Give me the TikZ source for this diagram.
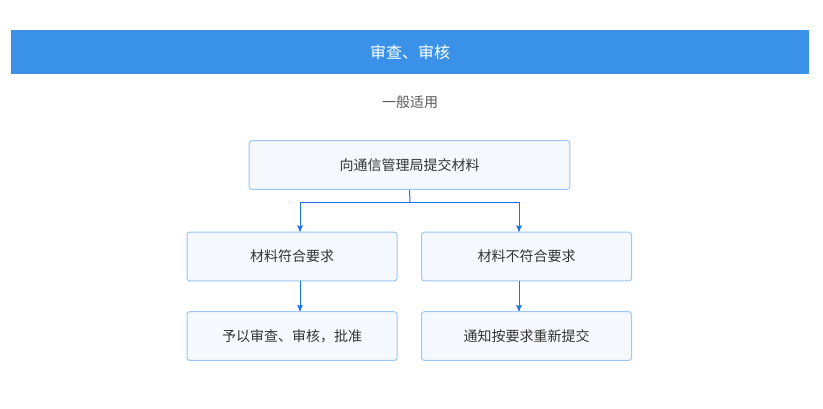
\documentclass[tikz,border=0pt]{standalone}
\usepackage{fontspec}
\setmainfont{Noto Sans CJK SC}
\usepackage{xcolor}
\usetikzlibrary{positioning, arrows}
\definecolor{hdrblue}{HTML}{3A91E8}
\definecolor{boxline}{HTML}{9CC6F3}
\definecolor{boxfill}{HTML}{F5F9FD}
\definecolor{arrblue}{HTML}{1A73E8}
\definecolor{txtgray}{HTML}{333333}

\begin{document}
\begin{tikzpicture}
		[x=0.75pt,y=-0.75pt,>=stealth',semithick,
		box/.style={rectangle,draw=boxline,fill=boxfill,line width=0.75pt,rounded corners=2pt,minimum width=157.5pt,minimum height=36.5pt,text=txtgray,font=\fontsize{10.5}{12}\selectfont},
		conn/.style={draw=arrblue,line width=0.75pt}]
		\useasboundingbox (0,0) rectangle (823,408);
		\fill[hdrblue] (11,30) rectangle (809,74);
		\node[text=white,font=\fontsize{12}{14}\selectfont] (title) at (410,52) {审查、审核};
		\node[text=black!65,font=\fontsize{10.5}{12}\selectfont] (sub) at (410,102) {一般适用};
		
		\node[box,minimum width=240.5pt] (r0) at (409.5,165) {向通信管理局提交材料};
		\node[box] (r1) at (292,256.5) {材料符合要求};
		\node[box] (r2) at (526.5,256.5) {材料不符合要求};
		\node[box] (r3) at (292,336) {予以审查、审核，批准};
		\node[box] (r4) at (526.5,336) {通知按要求重新提交};
		
		\coordinate (split) at (410,202);
		\coordinate (cl) at (300,202);
		\coordinate (cr) at (519,202);
		
		\draw[conn] (r0.south) -- (split);
		\draw[conn,->] (split) -| (r1.north -| cl);
		\draw[conn,->] (split) -| (r2.north -| cr);
		\draw[conn,->] (r1.south -| cl) -- (r3.north -| cl);
		\draw[conn,->] (r2.south -| cr) -- (r4.north -| cr);
		
	\end{tikzpicture}
\end{document}
